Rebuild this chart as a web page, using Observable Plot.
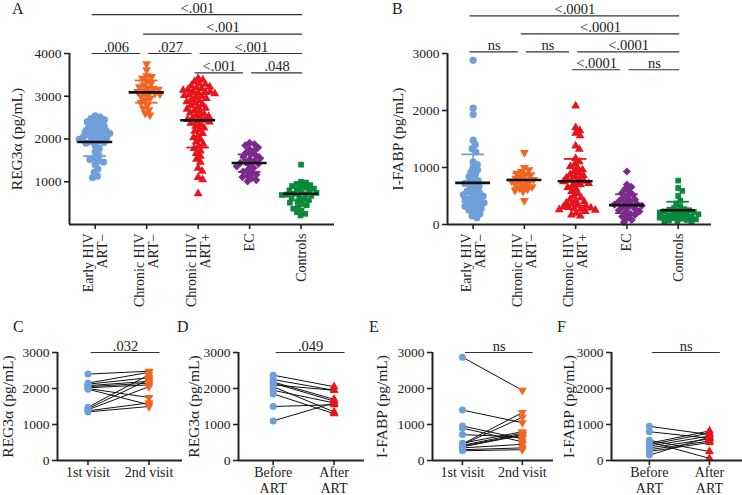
<!DOCTYPE html>
<html><head><meta charset="utf-8">
<script src="https://cdn.jsdelivr.net/npm/d3@7"></script>
<script src="https://cdn.jsdelivr.net/npm/@observablehq/plot@0.6"></script>
<style>
body{margin:0;background:#fff}
#fig{position:relative;width:742px;height:495px;font-family:"Liberation Serif",serif;color:#222;overflow:hidden;background:#fff}
#fig svg{position:absolute}
.letter{position:absolute;font-size:16px;line-height:16px;font-family:"Liberation Serif",serif;color:#222}
</style></head><body><div id="fig"></div>
<script>
// ---------- data ----------
const groups = ["Early HIV\nART\u2212", "Chronic HIV\nART\u2212", "Chronic HIV\nART+", "EC", "Controls"];
const groupColors = ["#6f9fd8", "#f26522", "#e8141c", "#7b2a8c", "#0b8a3c"];

// Panel A: REG3α (pg/mL)
const regEarly = [2540,2510,2480,2450,2420,2400,2370,2340,2310,2280,2250,2220,2200,2180,2160,2130,2110,2090,2070,2050,2030,2010,1990,1960,1940,1920,1900,1850,1780,1700,1620,1560,1520,1490,1460,1400,1300,1220,1130,1100];
const regChronicNaive = [3760,3620,3480,3460,3420,3360,3300,3260,3220,3200,3180,3160,3130,3110,3090,3070,3050,3020,2990,2950,2900,2850,2790,2720,2680,2600,2560];
const regChronicART = [3420,3380,3340,3300,3280,3250,3220,3200,3180,3160,3140,3120,3100,3100,3080,3060,3040,3020,3000,2980,2950,2920,2900,2870,2840,2810,2780,2750,2720,2700,2670,2640,2610,2580,2560,2530,2500,2480,2460,2440,2420,2400,2370,2340,2300,2260,2220,2180,2130,2080,2030,1980,1930,1880,1830,1780,1720,1660,1600,1530,1460,1320,1250,1100,1050,720];
const regEC = [1910,1880,1850,1800,1760,1720,1680,1640,1610,1580,1550,1520,1490,1460,1440,1420,1390,1360,1320,1280,1240,1200,1170,1140,1110,1080,1040,1010];
const regControls = [1400,1000,980,950,920,900,880,860,840,820,800,780,760,740,720,710,700,690,670,650,620,600,570,540,510,480,450,410,370,330,290,250,210];
const regMedian = [1930, 3090, 2440, 1440, 720];
const regQ1 = [1600, 2850, 1800, 1230, 560];
const regQ3 = [2250, 3370, 3050, 1640, 860];
const sigA = [[0,4,3,"<.001"],[1,4,2,"<.001"],[0,1,1,".006"],[1,2,1,".027"],[2,4,1,"<.001"],[2,3,0,"<.001"],[3,4,0,".048"]];

// Panel B: I-FABP (pg/mL)
const fabpEarly = [2880,2040,1930,1480,1400,1330,1270,1100,1050,1000,960,920,880,840,800,770,740,720,700,670,640,610,580,560,540,520,500,480,460,440,420,400,380,360,340,320,300,280,250,220,190,150,120];
const fabpChronicNaive = [1260,1000,960,930,900,870,850,830,810,790,780,760,740,720,700,680,660,640,620,600,580,420];
const fabpChronicART = [2080,1700,1650,1600,1560,1380,1320,1160,1100,1060,1020,990,960,930,900,880,860,840,820,800,780,760,750,740,720,700,680,650,620,580,540,500,470,440,420,400,380,360,340,320,310,300,290,280,270,260,250,230,200,170,150];
const fabpEC = [930,700,660,620,580,550,520,490,460,440,420,400,380,360,350,340,330,310,290,270,250,230,210,190,170,140,110,80,40];
const fabpControls = [770,640,590,500,420,370,320,290,270,260,250,240,230,220,210,200,190,180,170,160,150,140,130,120,110,100,90,80,70,60,50,40];
const fabpMedian = [730, 780, 760, 340, 250];
const fabpQ1 = [400, 650, 330, 200, 120];
const fabpQ3 = [1230, 900, 1150, 530, 400];
const sigB = [[0,4,3,"<.0001"],[1,4,2,"<.0001"],[0,1,1,"ns"],[1,2,1,"ns"],[2,4,1,"<.0001"],[2,3,0,"<.0001"],[3,4,0,"ns"]];

// Panels C–F: paired values
const visitLabels = ["1st visit", "2nd visit"];
const artLabels = ["Before\nART", "After\nART"];
const regVisit1 = [2400,2150,2120,2080,2050,2020,2000,1980,1480,1440,1410,1380,1350];
const regVisit2 = [2480,2450,2300,2200,2150,2100,1750,1550,2380,2250,2050,1600,1500];
const regBefore = [2370,2250,2180,2150,2100,2050,1950,1850,1500,1100];
const regAfter  = [2050,1950,1700,1650,1950,1350,1600,1300,1550,1600];
const fabpVisit1 = [2870,1400,960,900,720,480,460,440,420,400,380,350,300,270];
const fabpVisit2 = [1950,1050,600,520,650,800,1330,1200,760,720,700,450,350,300];
const fabpBefore = [950,800,560,520,480,440,400,350,300,250,150];
const fabpAfter  = [720,620,250,60,820,760,680,600,540,500,650];

// ---------- helpers ----------
const FONT = "Liberation Serif";
const INK = "#222";
const sqrt3 = Math.sqrt(3);
const triangleDown = {draw(ctx, size) {
  const y = -Math.sqrt(size / (sqrt3 * 3));
  ctx.moveTo(0, -y * 2); ctx.lineTo(-sqrt3 * y, y); ctx.lineTo(sqrt3 * y, y); ctx.closePath();
}};
const groupSymbols = ["circle", triangleDown, "triangle", "diamond2", "square"];
const groupR = [3.6, 3.3, 3.3, 3.7, 3.2];

function place(el, left, top) { el.style.left = left + "px"; el.style.top = top + "px"; return el; }

function yTitle(label, dx) {
  return Plot.text([label], {frameAnchor: "left", rotate: -90, dx, text: d => d, textAnchor: "middle", lineAnchor: "middle", fontSize: 15.5, fill: INK});
}

function swarmPanel(cfg) {
  const {width, marginLeft, marginRight, yMax, yTicks, yLabel, labelDx, values, median, q1, q3, sig, level1, levelStep} = cfg;
  const height = 315, marginTop = 53, marginBottom = 91;
  const xDomain = [-0.5, 4.65];
  const unit = (width - marginLeft - marginRight) / (xDomain[1] - xDomain[0]);
  const ppu = (height - marginTop - marginBottom) / yMax;
  const D = 5.0;
  const marks = [];
  values.forEach((vals, gi) => {
    const placed = [];
    const pts = [];
    for (const v of vals.slice().sort((a, b) => b - a)) {
      const y = v * ppu;
      const cands = [0];
      for (const p of placed) {
        const dy = Math.abs(p.y - y);
        if (dy < D) { const dx = Math.sqrt(D * D - dy * dy); cands.push(p.x + dx, p.x - dx); }
      }
      cands.sort((a, b) => Math.abs(a) - Math.abs(b));
      let x = 0;
      for (const c of cands) {
        if (placed.every(p => (p.x - c) ** 2 + (p.y - y) ** 2 >= D * D - 1e-6)) { x = c; break; }
      }
      placed.push({x, y});
      pts.push({v, x: gi + x / unit});
    }
    marks.push(Plot.dot(pts, {x: "x", y: "v", symbol: groupSymbols[gi], r: groupR[gi], fill: groupColors[gi], stroke: "none"}));
  });
  const stats = groups.map((g, i) => ({i, med: median[i], q1: q1[i], q3: q3[i], c: groupColors[i]}));
  const bars = sig.map(([f, t, l, label]) => {
    const sharedEnd = sig.some(o => o[2] === l && o[0] === t);
    const sharedStart = sig.some(o => o[2] === l && o[1] === f);
    const x1 = sharedStart ? f + 0.04 : f - 0.06;
    const x2 = sharedEnd ? t - 0.12 : t + 0.03;
    return {x1, x2, xm: (x1 + x2) / 2, y: level1 + (l - 1) * levelStep, label};
  });
  return Plot.plot({
    width, height, marginLeft, marginRight, marginTop, marginBottom,
    x: {domain: xDomain, axis: null},
    y: {domain: [0, yMax], axis: null},
    style: {fontFamily: FONT, color: INK, background: "transparent", overflow: "visible"},
    marks: [
      Plot.axisY({ticks: yTicks, tickSize: 5, tickPadding: 3, tickFormat: d => String(d), fontSize: 13.5, strokeWidth: 1.6, label: null}),
      yTitle(yLabel, labelDx),
      Plot.axisX({ticks: [0, 1, 2, 3, 4], tickSize: 5, tickFormat: () => "", strokeWidth: 1.6, label: null}),
      Plot.text(groups, {x: (d, i) => i, y: 0, text: d => d, rotate: -90, textAnchor: "end", lineAnchor: "middle", dy: 9, fontSize: 14, fill: INK}),
      ...marks,
      Plot.ruleX(stats, {x: "i", y1: "q1", y2: "q3", stroke: "c", strokeWidth: 1.6}),
      Plot.ruleY(stats, {y: "q1", x1: d => d.i - 0.22, x2: d => d.i + 0.22, stroke: "c", strokeWidth: 1.8}),
      Plot.ruleY(stats, {y: "q3", x1: d => d.i - 0.22, x2: d => d.i + 0.22, stroke: "c", strokeWidth: 1.8}),
      Plot.ruleY(stats, {y: "med", x1: d => d.i - 0.34, x2: d => d.i + 0.34, stroke: "#111", strokeWidth: 2.6}),
      Plot.ruleX([xDomain[0]], {stroke: "#222", strokeWidth: 2}),
      Plot.ruleY([0], {stroke: "#222", strokeWidth: 2}),
      Plot.ruleY(bars, {y: "y", x1: "x1", x2: "x2", stroke: "#333", strokeWidth: 1.2}),
      Plot.text(bars, {x: "xm", y: "y", text: "label", lineAnchor: "bottom", dy: -2, fontSize: 14.5, fill: INK})
    ]
  });
}

function pairedPanel(cfg) {
  const {width, marginLeft, marginRight, xDomain, before, after, rightSymbol, rightColor, catLabels, sigLabel, yLabel, labelDx} = cfg;
  const pairs = before.map((b, i) => ({b, a: after[i]}));
  const x1 = 0.05, x2 = 1.18;
  return Plot.plot({
    width, height: 175, marginLeft, marginRight, marginTop: 32, marginBottom: 35,
    x: {domain: xDomain, axis: null},
    y: {domain: [0, 3000], axis: null},
    style: {fontFamily: FONT, color: INK, background: "transparent", overflow: "visible"},
    marks: [
      Plot.axisY({ticks: [0, 1000, 2000, 3000], tickSize: 5, tickPadding: 3, tickFormat: d => String(d), fontSize: 13.5, strokeWidth: 1.6, label: null}),
      yTitle(yLabel, labelDx),
      Plot.axisX({ticks: [0, 1], tickSize: 5, tickFormat: () => "", strokeWidth: 1.6, label: null}),
      Plot.text(catLabels, {x: (d, i) => i, y: 0, text: d => d, lineAnchor: "top", dy: 6, fontSize: 14, fill: INK, lineHeight: 1.1}),
      Plot.link(pairs, {x1: () => 0, x2: () => 1, y1: "b", y2: "a", stroke: "#111", strokeWidth: 1}),
      Plot.dot(pairs, {x: () => 0, y: "b", r: 3.5, fill: groupColors[0], stroke: "none"}),
      Plot.dot(pairs, {x: () => 1, y: "a", r: 3.3, symbol: rightSymbol, fill: rightColor, stroke: "none"}),
      Plot.ruleX([xDomain[0]], {stroke: "#222", strokeWidth: 2}),
      Plot.ruleY([0], {stroke: "#222", strokeWidth: 2}),
      Plot.ruleY([sigLabel], {y: () => 3000, x1: () => x1, x2: () => x2, stroke: "#333", strokeWidth: 1.2}),
      Plot.text([sigLabel], {x: () => (x1 + x2) / 2, y: () => 3000, text: d => d, lineAnchor: "bottom", dy: -2, fontSize: 14.5, fill: INK})
    ]
  });
}

// ---------- build ----------
const fig = document.getElementById("fig");

fig.appendChild(place(swarmPanel({
  width: 370, marginLeft: 69, marginRight: 36, yMax: 4000, yTicks: [1000, 2000, 3000, 4000],
  yLabel: "REG3\u03b1 (pg/mL)", labelDx: -52,
  values: [regEarly, regChronicNaive, regChronicART, regEC, regControls],
  median: regMedian, q1: regQ1, q3: regQ3, sig: sigA, level1: 4000, levelStep: 455
}), 0, 0));

fig.appendChild(place(swarmPanel({
  width: 372, marginLeft: 77, marginRight: 31, yMax: 3000, yTicks: [0, 1000, 2000, 3000],
  yLabel: "I-FABP (pg/mL)", labelDx: -49,
  values: [fabpEarly, fabpChronicNaive, fabpChronicART, fabpEC, fabpControls],
  median: fabpMedian, q1: fabpQ1, q3: fabpQ3, sig: sigB, level1: 3030, levelStep: 315
}), 370, 0));

fig.appendChild(place(pairedPanel({
  width: 190, marginLeft: 57, marginRight: 8, xDomain: [-0.5, 1.55],
  before: regVisit1, after: regVisit2, rightSymbol: triangleDown, rightColor: groupColors[1],
  catLabels: visitLabels, sigLabel: ".032", yLabel: "REG3\u03b1 (pg/mL)", labelDx: -49
}), 0, 320));

fig.appendChild(place(pairedPanel({
  width: 180, marginLeft: 48, marginRight: 6, xDomain: [-0.57, 1.5],
  before: regBefore, after: regAfter, rightSymbol: "triangle", rightColor: groupColors[2],
  catLabels: artLabels, sigLabel: ".049", yLabel: "REG3\u03b1 (pg/mL)", labelDx: -44
}), 190, 320));

fig.appendChild(place(pairedPanel({
  width: 186, marginLeft: 62, marginRight: 3, xDomain: [-0.5, 1.52],
  before: fabpVisit1, after: fabpVisit2, rightSymbol: triangleDown, rightColor: groupColors[1],
  catLabels: visitLabels, sigLabel: "ns", yLabel: "I-FABP (pg/mL)", labelDx: -50
}), 370, 320));

fig.appendChild(place(pairedPanel({
  width: 186, marginLeft: 55, marginRight: 0, xDomain: [-0.63, 1.55],
  before: fabpBefore, after: fabpAfter, rightSymbol: "triangle", rightColor: groupColors[2],
  catLabels: artLabels, sigLabel: "ns", yLabel: "I-FABP (pg/mL)", labelDx: -42
}), 556, 320));

const letters = [["A", 12, 1], ["B", 392, 1], ["C", 13, 319], ["D", 177, 319], ["E", 369, 319], ["F", 557, 319]];
for (const [t, x, y] of letters) {
  const d = document.createElement("div");
  d.className = "letter"; d.textContent = t; d.style.left = x + "px"; d.style.top = y + "px";
  fig.appendChild(d);
}
</script></body></html>
